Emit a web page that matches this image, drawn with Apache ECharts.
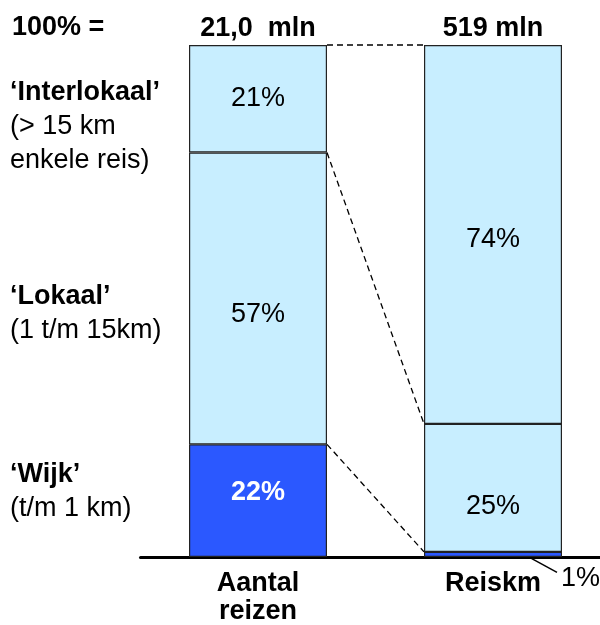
<!DOCTYPE html>
<html>
<head>
<meta charset="utf-8">
<script src="https://cdn.jsdelivr.net/npm/echarts@6/dist/echarts.min.js"></script>
<style>html,body{margin:0;padding:0;background:#fff}#c{width:600px;height:625px}</style>
</head>
<body>
<div id="c"></div>
<script>
const categories = ['Aantal\nreizen', 'Reiskm'];
const totals = ['21,0  mln', '519 mln'];
const wijk = [22, 1];
const lokaal = [57, 25];
const interlokaal = [21, 74];
const rowLabels = [
  ['‘Interlokaal’', '(> 15 km', 'enkele reis)'],
  ['‘Lokaal’', '(1 t/m 15km)'],
  ['‘Wijk’', '(t/m 1 km)']
];
const headerLabel = '100% =';

const FONT = 'Liberation Sans, Arial, sans-serif';
const FS = 27;
const LIGHT = '#C8EEFF';
const DARK = '#2B58FF';
const BAR_W = 138;

const chart = echarts.init(document.getElementById('c'));

function mk(name, vals, color, labelColor, bold, offsets, hideIdx) {
  return {
    name: name, type: 'bar', stack: 'a', barWidth: BAR_W,
    itemStyle: {color: color, borderColor: '#222', borderWidth: 1.2},
    data: vals.map((v, i) => ({
      value: v,
      label: {show: i !== hideIdx, offset: [0, offsets[i]]}
    })),
    label: {
      show: true, position: 'inside',
      formatter: p => p.value + '%',
      color: labelColor, fontFamily: FONT, fontSize: FS,
      fontWeight: bold ? 'bold' : 'normal'
    },
    emphasis: {disabled: true},
    animation: false
  };
}

const option = {
  animation: false,
  grid: {left: 140.5, width: 470, top: 45, bottom: 68, outerBoundsMode: 'none', containLabel: false},
  xAxis: [{
    type: 'category', data: categories,
    axisLine: {show: true, lineStyle: {color: '#000', width: 3}},
    axisTick: {show: false},
    axisLabel: {color: '#000', fontFamily: FONT, fontSize: FS, fontWeight: 'bold',
      lineHeight: 28, margin: 13, verticalAlign: 'top', interval: 0}
  }, {
    type: 'category', data: totals, position: 'top',
    axisLine: {show: false}, axisTick: {show: false},
    axisLabel: {color: '#000', fontFamily: FONT, fontSize: FS, fontWeight: 'bold',
      margin: 3, interval: 0}
  }],
  yAxis: {type: 'value', min: 0, max: 100, show: false, splitLine: {show: false}},
  series: [
    mk('Wijk', wijk, DARK, '#fff', true, [-8, 0], 1),
    mk('Lokaal', lokaal, LIGHT, '#000', false, [16, 19], -1),
    mk('Interlokaal', interlokaal, LIGHT, '#000', false, [0, 5], -1)
  ]
};
chart.setOption(option);

// connectors and annotations computed from axis scales
const hw = BAR_W / 2;
const gfx = [];
function px(ci, v) { return chart.convertToPixel({xAxisIndex: 0, yAxisIndex: 0}, [ci, v]); }
const levels = [
  [wijk[0] + lokaal[0] + interlokaal[0], wijk[1] + lokaal[1] + interlokaal[1]],
  [wijk[0] + lokaal[0], wijk[1] + lokaal[1]],
  [wijk[0], wijk[1]]
];
levels.forEach(l => {
  const a = px(0, l[0]), b = px(1, l[1]);
  gfx.push({type: 'line', silent: true,
    shape: {x1: a[0] + hw, y1: a[1], x2: b[0] - hw, y2: b[1]},
    style: {stroke: '#000', lineWidth: 1.3, lineDash: [6, 4]}});
});
// 1% leader
const p1 = px(1, wijk[1] / 2);
gfx.push({type: 'line', silent: true,
  shape: {x1: p1[0] + 31, y1: p1[1], x2: p1[0] + 64, y2: p1[1] + 18},
  style: {stroke: '#000', lineWidth: 1.5}});
gfx.push({type: 'text', silent: true, x: p1[0] + 68, y: p1[1] + 24,
  style: {text: wijk[1] + '%', fill: '#000', font: FS + 'px ' + FONT, align: 'left', verticalAlign: 'middle'}});

// left labels
gfx.push({type: 'text', x: 12, y: 28,
  style: {text: headerLabel, fill: '#000', font: 'bold ' + FS + 'px ' + FONT, align: 'left', verticalAlign: 'middle'}});
const rowY = [93, 297, 475];
rowLabels.forEach((lines, r) => {
  lines.forEach((t, k) => {
    gfx.push({type: 'text', x: 10, y: rowY[r] + k * 34,
      style: {text: t, fill: '#000', font: (k === 0 ? 'bold ' : '') + FS + 'px ' + FONT, align: 'left', verticalAlign: 'middle'}});
  });
});
chart.setOption({graphic: gfx});
</script>
</body>
</html>
